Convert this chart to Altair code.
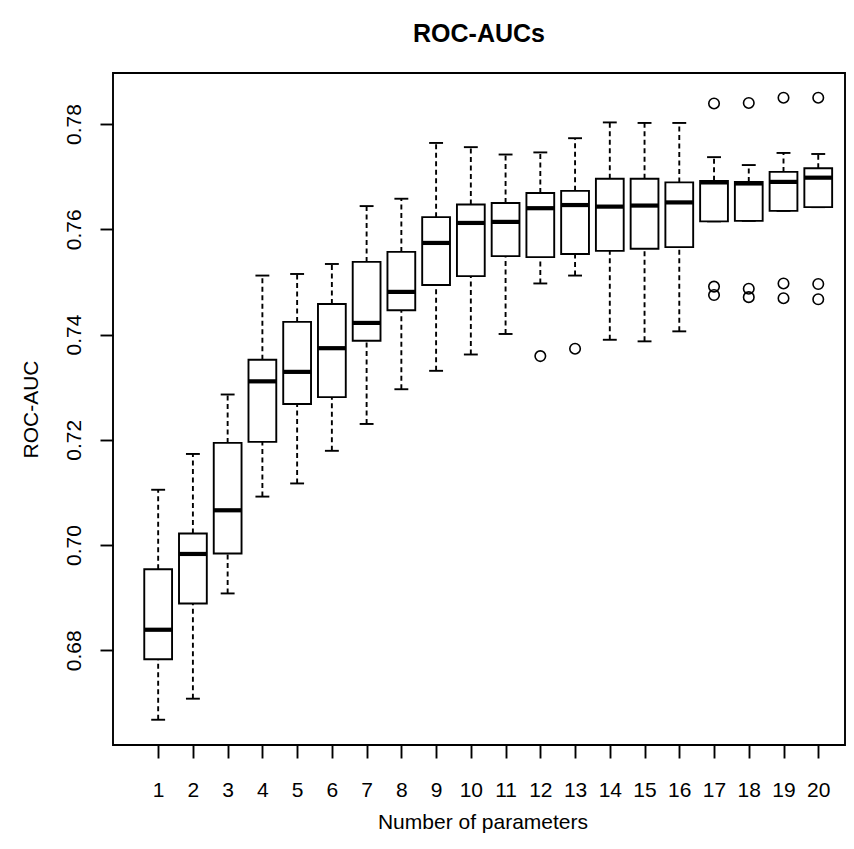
import altair as alt
import pandas as pd

params = list(range(1, 21))
lower = [0.6668, 0.6708, 0.6908, 0.7092, 0.7117, 0.7179, 0.7230, 0.7296, 0.7331, 0.7362,
         0.7401, 0.7497, 0.7512, 0.7390, 0.7387, 0.7406, 0.7615, 0.7616, 0.7635, 0.7642]
q1 = [0.6783, 0.6889, 0.6984, 0.7196, 0.7268, 0.7281, 0.7388, 0.7446, 0.7494, 0.7511,
      0.7549, 0.7547, 0.7553, 0.7559, 0.7563, 0.7566, 0.7615, 0.7616, 0.7635, 0.7642]
median = [0.6839, 0.6983, 0.7066, 0.7311, 0.7329, 0.7374, 0.7422, 0.7481, 0.7574, 0.7612,
          0.7614, 0.7640, 0.7646, 0.7643, 0.7645, 0.7651, 0.7689, 0.7687, 0.7690, 0.7698]
q3 = [0.6954, 0.7022, 0.7194, 0.7352, 0.7424, 0.7458, 0.7538, 0.7557, 0.7623, 0.7647,
      0.7650, 0.7669, 0.7673, 0.7696, 0.7696, 0.7689, 0.7692, 0.7690, 0.7709, 0.7716]
upper = [0.7105, 0.7173, 0.7286, 0.7512, 0.7515, 0.7534, 0.7644, 0.7658, 0.7764, 0.7756,
         0.7742, 0.7746, 0.7773, 0.7803, 0.7802, 0.7802, 0.7737, 0.7722, 0.7745, 0.7743]
outlier_param = [12, 13, 17, 17, 17, 18, 18, 18, 19, 19, 19, 20, 20, 20]
outlier_value = [0.7359, 0.7373, 0.7839, 0.7491, 0.7475, 0.7840, 0.7487, 0.7471,
                 0.7850, 0.7497, 0.7469, 0.7850, 0.7496, 0.7467]
y_ticks = [0.68, 0.70, 0.72, 0.74, 0.76, 0.78]

boxes = pd.DataFrame({"param": params, "lower": lower, "q1": q1, "median": median,
                      "q3": q3, "upper": upper})
outs = pd.DataFrame({"param": outlier_param, "value": outlier_value})

FONT = "Liberation Sans"
FS = 21
XT = "Number of parameters"
YT = "ROC-AUC"
W, H = 732, 672
xs = alt.Scale(domain=[-0.3, 20.77], nice=False, zero=False)
ys = alt.Scale(domain=[0.6620, 0.78969], nice=False, zero=False)
LW = 1.9

x_axis = alt.Axis(values=params, format="d", tickSize=13, tickWidth=LW, tickColor="black",
                  domain=False, grid=False, labelFont=FONT, labelFontSize=FS,
                  labelColor="black", labelBaseline="alphabetic", labelPadding=38,
                  labelFlush=False, labelOverlap=False,
                  title=XT, titleFont=FONT, titleFontSize=FS, titleFontWeight="normal",
                  titleColor="black", titleBaseline="alphabetic", titleAlign="center",
                  titleX=369.5, titleY=83)
y_axis = alt.Axis(values=y_ticks, format=".2f", tickSize=13, tickWidth=LW, tickColor="black",
                  domain=False, grid=False, labelFont=FONT, labelFontSize=FS,
                  labelColor="black", labelAngle=270, labelAlign="center",
                  labelBaseline="alphabetic", labelPadding=20, labelFlush=False,
                  labelOverlap=False,
                  title=YT, titleFont=FONT, titleFontSize=FS, titleFontWeight="normal",
                  titleColor="black", titleAngle=270, titleAlign="center",
                  titleBaseline="alphabetic", titleX=-76, titleY=336)


def X(field):
    return alt.X(field, scale=xs, axis=x_axis, title=XT)


def Y(field):
    return alt.Y(field, scale=ys, axis=y_axis, title=YT)


base = alt.Chart(boxes).transform_calculate(
    bl="datum.param - 0.4", br="datum.param + 0.4",
    cl="datum.param - 0.2", cr="datum.param + 0.2")

dash = [5, 3.5]
whisk_up = base.mark_rule(color="black", strokeWidth=LW, strokeDash=dash).encode(
    x=X("param:Q"), y=Y("q3:Q"), y2="upper:Q")
whisk_lo = base.mark_rule(color="black", strokeWidth=LW, strokeDash=dash).encode(
    x=X("param:Q"), y=Y("lower:Q"), y2="q1:Q")
cap_up = base.mark_rule(color="black", strokeWidth=LW).encode(
    x=X("cl:Q"), x2="cr:Q", y=Y("upper:Q"))
cap_lo = base.mark_rule(color="black", strokeWidth=LW).encode(
    x=X("cl:Q"), x2="cr:Q", y=Y("lower:Q"))
box = base.mark_rect(fill="white", stroke="black", strokeWidth=LW).encode(
    x=X("bl:Q"), x2="br:Q", y=Y("q1:Q"), y2="q3:Q")
med = base.mark_rule(color="black", strokeWidth=4.2).encode(
    x=X("bl:Q"), x2="br:Q", y=Y("median:Q"))
pts = alt.Chart(outs).mark_point(shape="circle", filled=False, color="black",
                                 size=110, strokeWidth=1.6, opacity=1).encode(
    x=X("param:Q"), y=Y("value:Q"))

chart = alt.layer(whisk_up, whisk_lo, cap_up, cap_lo, box, med, pts).properties(
    width=W, height=H,
    title=alt.TitleParams("ROC-AUCs", font=FONT, fontSize=25, fontWeight="bold",
                          color="black", anchor="middle", baseline="alphabetic",
                          offset=6),
    padding={"left": 105, "top": 65, "right": 1, "bottom": 88},
    autosize="none",
).configure_view(stroke="black", strokeWidth=LW)

chart.save("out.html", embed_options={"renderer": "svg", "actions": False})
